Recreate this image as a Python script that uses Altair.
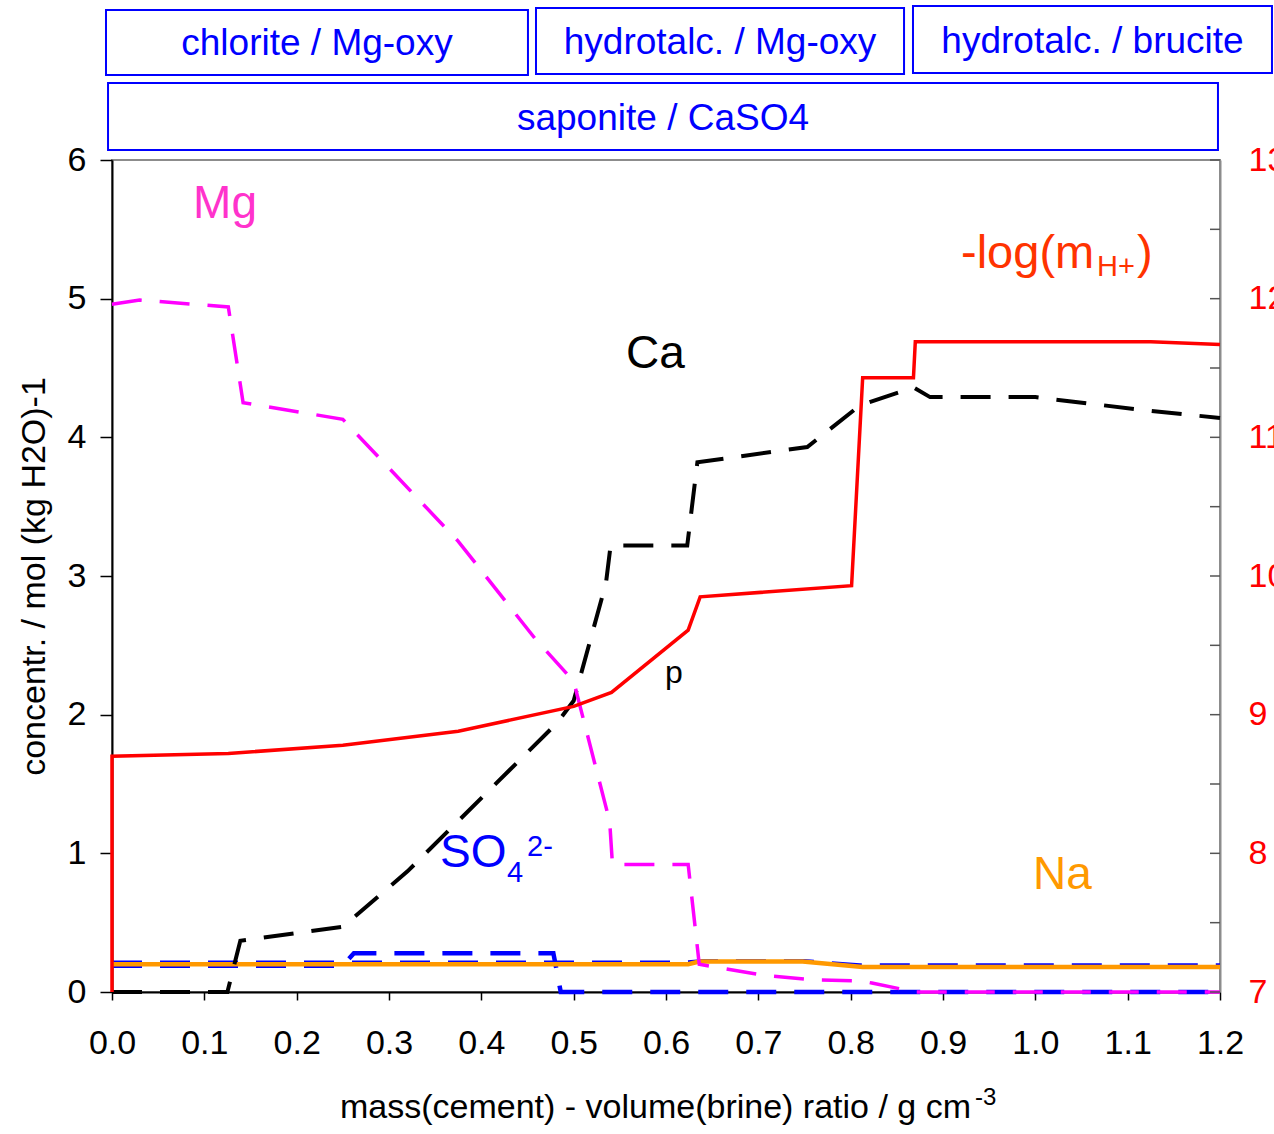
import altair as alt
import pandas as pd

FONT = "Liberation Sans, Arial, sans-serif"

# ---------------- data ----------------
mg_x = [0.0, 0.03, 0.126, 0.142, 0.25, 0.375, 0.458, 0.50, 0.539, 0.542, 0.624, 0.636, 0.706, 0.76, 0.81, 0.823, 0.87, 1.2]
mg_y = [4.96, 4.99, 4.94, 4.25, 4.13, 3.25, 2.55, 2.24, 1.23, 0.92, 0.92, 0.20, 0.12, 0.087, 0.08, 0.065, 0.0, 0.0]

ca_x = [0.0, 0.125, 0.139, 0.25, 0.32, 0.482, 0.50, 0.535, 0.54, 0.623, 0.634, 0.753, 0.81, 0.868, 0.886, 1.0, 1.125, 1.2]
ca_y = [0.0, 0.0, 0.37, 0.47, 0.87, 1.94, 2.10, 2.95, 3.22, 3.22, 3.82, 3.93, 4.23, 4.36, 4.29, 4.29, 4.19, 4.14]

so4_x = [0.0, 0.25, 0.262, 0.478, 0.486, 1.2]
so4_y = [0.19, 0.19, 0.28, 0.28, 0.0, 0.0]

blue2_x = [0.0, 0.62, 0.64, 0.75, 0.81, 1.2]
blue2_y = [0.22, 0.22, 0.23, 0.23, 0.20, 0.20]

na_x = [0.0, 0.624, 0.636, 0.748, 0.813, 1.2]
na_y = [0.20, 0.20, 0.22, 0.22, 0.18, 0.18]

ph_x = [0.0, 0.0, 0.126, 0.25, 0.375, 0.50, 0.541, 0.624, 0.637, 0.801, 0.813, 0.868, 0.87, 1.125, 1.2]
ph_y = [7.0, 8.70, 8.72, 8.78, 8.88, 9.06, 9.16, 9.61, 9.85, 9.93, 11.43, 11.43, 11.69, 11.69, 11.67]

x_ticks = [0.0, 0.1, 0.2, 0.3, 0.4, 0.5, 0.6, 0.7, 0.8, 0.9, 1.0, 1.1, 1.2]
y_ticks = [0, 1, 2, 3, 4, 5, 6]
ph_ticks = [7, 8, 9, 10, 11, 12, 13]
ph_minor = [7, 7.5, 8, 8.5, 9, 9.5, 10, 10.5, 11, 11.5, 12, 12.5, 13]

box_labels = ["chlorite / Mg-oxy", "hydrotalc. / Mg-oxy", "hydrotalc. / brucite", "saponite / CaSO4"]
box_x1 = [-0.0065, 0.4592, 0.8675, -0.0043]
box_x2 = [0.4505, 0.8578, 1.2563, 1.1978]
box_y1 = [6.613, 6.620, 6.627, 6.072]
box_y2 = [7.082, 7.096, 7.110, 6.555]


def series(xs, ys):
    return pd.DataFrame({"ratio": xs, "conc": ys, "i": list(range(len(xs)))})


X_SCALE = alt.Scale(domain=[0, 1.2], nice=False, zero=False)
Y_SCALE = alt.Scale(domain=[0, 6], nice=False, zero=False)
PH_SCALE = alt.Scale(domain=[7, 13], nice=False, zero=False)

x_axis = alt.Axis(
    values=x_ticks, format=".1f", labelFont=FONT, labelFontSize=34, labelColor="black",
    labelFlush=False, labelOverlap=False,
    tickSize=8, tickColor="black", tickWidth=1.5, domainColor="black", domainWidth=2,
    labelPadding=26, grid=False,
    title="mass(cement) - volume(brine) ratio / g cm", titleFont=FONT, titleFontSize=34,
    titleFontWeight="normal", titleColor="black", titlePadding=30, titleX=543,
)
y_axis = alt.Axis(
    values=y_ticks, format="d", labelFont=FONT, labelFontSize=34, labelColor="black",
    labelFlush=False, labelOverlap=False,
    tickSize=12, tickColor="black", tickWidth=1.5, domainColor="black", domainWidth=2,
    labelPadding=14, grid=False,
    title="concentr. / mol (kg H2O)-1", titleFont=FONT, titleFontSize=34,
    titleFontWeight="normal", titleColor="black", titlePadding=16,
)
ph_axis = alt.Axis(
    values=ph_ticks, orient="right", format="d", labelFont=FONT, labelFontSize=34,
    labelColor="#FF0000", labelFlush=False, labelOverlap=False,
    ticks=False, tickSize=0, domainColor="#8c8c8c", domainWidth=2, labelPadding=28,
    grid=False, title=None,
)

X = alt.X("ratio:Q", scale=X_SCALE, axis=x_axis)
Xn = alt.X("ratio:Q", scale=X_SCALE)
Yn = alt.Y("conc:Q", scale=Y_SCALE)


def dashed(xs, ys, color, width, axis=False):
    y = alt.Y("conc:Q", scale=Y_SCALE, axis=y_axis) if axis else Yn
    return alt.Chart(series(xs, ys)).mark_line(
        color=color, strokeWidth=width, strokeDash=[30, 18], clip=False
    ).encode(x=X if axis else Xn, y=y, order="i:Q")


mg_line = dashed(mg_x, mg_y, "#FF00FF", 3.5, axis=True)
ca_line = dashed(ca_x, ca_y, "#000000", 4)
blue2_line = dashed(blue2_x, blue2_y, "#0000FF", 2)
so4_line = dashed(so4_x, so4_y, "#0000FF", 4.5)
na_line = alt.Chart(series(na_x, na_y)).mark_line(color="#FF9900", strokeWidth=4.5).encode(
    x=Xn, y=Yn, order="i:Q")

# boxes at the top
boxes_df = pd.DataFrame({"label": box_labels, "x1": box_x1, "x2": box_x2, "y1": box_y1, "y2": box_y2})
boxes_df["xm"] = (boxes_df["x1"] + boxes_df["x2"]) / 2
boxes_df["ym"] = (boxes_df["y1"] + boxes_df["y2"]) / 2
boxes = alt.Chart(boxes_df).mark_rect(filled=False, stroke="#0000FF", strokeWidth=2, clip=False).encode(
    x=alt.X("x1:Q", scale=X_SCALE), x2="x2:Q",
    y=alt.Y("y1:Q", scale=Y_SCALE), y2="y2:Q")
box_text = alt.Chart(boxes_df).mark_text(
    font=FONT, fontSize=37, color="#0000FF", baseline="middle", align="center", dy=2
).encode(x=alt.X("xm:Q", scale=X_SCALE), y=alt.Y("ym:Q", scale=Y_SCALE), text="label:N")


def label(text, x, y, color, size):
    d = pd.DataFrame({"t": [text], "ratio": [x], "conc": [y]})
    return alt.Chart(d).mark_text(
        font=FONT, fontSize=size, color=color, align="left", baseline="alphabetic"
    ).encode(x=Xn, y=Yn, text="t:N")


labels = [
    label("Mg", 0.0878, 5.58, "#FF33CC", 46),
    label("Ca", 0.5567, 4.50, "#000000", 46),
    label("Na", 0.9975, 0.745, "#FF9900", 46),
    label("SO", 0.3552, 0.90, "#0000FF", 46),
    label("4", 0.4278, 0.793, "#0000FF", 29),
    label("2-", 0.4495, 0.98, "#0000FF", 29),
    label("-log(m", 0.9195, 5.22, "#FF3300", 47),
    label("H+", 1.0668, 5.163, "#FF3300", 29),
    label(")", 1.110, 5.22, "#FF3300", 47),
    label("p", 0.599, 2.23, "#000000", 32),
    label("-3", 0.9347, -0.815, "#000000", 24),
]

left = alt.layer(boxes, box_text, blue2_line, so4_line, na_line, ca_line, mg_line, *labels)

ph_line = alt.Chart(series(ph_x, ph_y)).mark_line(color="#FF0000", strokeWidth=3.5).encode(
    x=Xn, y=alt.Y("conc:Q", scale=PH_SCALE, axis=ph_axis), order="i:Q")
ph_ticks_df = pd.DataFrame({"conc": ph_minor})
ph_tickmarks = alt.Chart(ph_ticks_df).mark_rule(color="#555555", strokeWidth=1.5).encode(
    y=alt.Y("conc:Q", scale=PH_SCALE), x=alt.value(1098), x2=alt.value(1108))

right = alt.layer(ph_tickmarks, ph_line)

chart = alt.layer(left, right).resolve_scale(y="independent").properties(
    width=1108, height=832,
    autosize=alt.AutoSizeParams(type="none"),
    padding={"left": 112, "top": 160, "right": 54, "bottom": 142},
).configure_view(stroke="#8c8c8c", strokeWidth=2)

chart.save("out.html", embed_options={"renderer": "svg", "actions": False})
